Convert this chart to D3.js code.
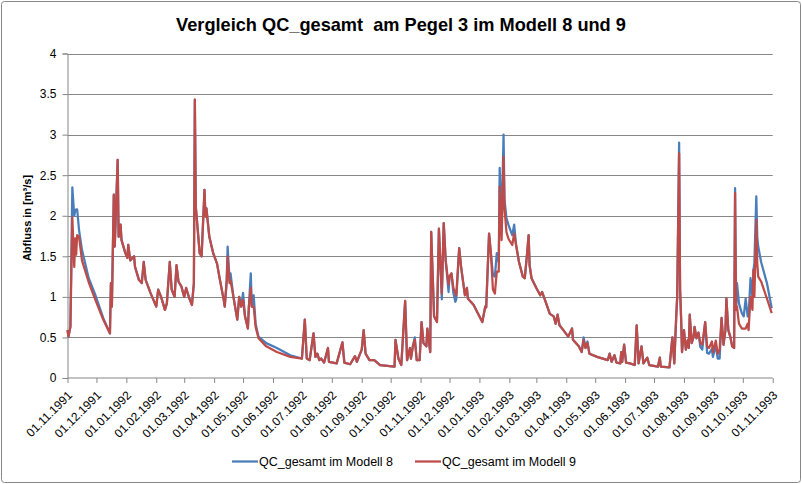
<!DOCTYPE html>
<html>
<head>
<meta charset="utf-8">
<script src="https://cdn.jsdelivr.net/npm/d3@7"></script>
<style>
  html, body { margin: 0; padding: 0; background: #fff; }
  svg { display: block; }
</style>
</head>
<body>
<svg id="chart" width="802" height="484"></svg>
<script>
// Tag seit 01.11.1991 und Abfluss [m³/s] der beiden Modelle
const tag = [
  0, 1, 3, 5, 7, 8, 9, 10, 12, 15, 22, 29, 37, 44, 45, 46, 48, 49, 52, 53,
  55, 56, 60, 62, 63, 65, 69, 70, 74, 77, 79, 81, 86, 92, 94, 97, 101, 103, 106, 108,
  111, 113, 115, 118, 121, 123, 126, 129, 131, 132, 133, 137, 139, 142, 143, 144, 147, 151, 155, 158,
  162, 163, 165, 166, 168, 169, 172, 176, 178, 180, 182, 184, 187, 188, 190, 191, 193, 195, 198, 206,
  217, 231, 243, 246, 248, 251, 255, 257, 259, 261, 263, 266, 270, 271, 279, 285, 287, 293, 298, 300,
  302, 305, 307, 309, 313, 318, 324, 339, 340, 343, 346, 350, 352, 355, 356, 358, 360, 362, 365, 367,
  369, 372, 373, 376, 377, 380, 383, 385, 388, 390, 392, 395, 396, 398, 400, 402, 403, 406, 408, 410,
  412, 414, 415, 421, 430, 433, 434, 437, 439, 441, 443, 445, 447, 448, 450, 452, 453, 455, 457, 461,
  463, 465, 468, 472, 474, 476, 478, 479, 481, 486, 490, 492, 495, 500, 504, 506, 508, 510, 514, 519,
  523, 524, 530, 533, 535, 537, 539, 541, 549, 560, 562, 564, 567, 569, 573, 574, 575, 577, 579, 583,
  588, 590, 592, 595, 597, 601, 603, 612, 614, 615, 624, 627, 629, 631, 632, 634, 635, 636, 637, 639,
  641, 643, 644, 645, 647, 649, 650, 652, 654, 656, 658, 661, 663, 665, 668, 669, 672, 674, 676, 678,
  680, 682, 683, 685, 687, 689, 691, 692, 693, 694, 696, 699, 701, 703, 705, 706, 708, 710, 711, 712,
  714, 715, 716, 719, 725, 730
];

const modell8 = [
  0.59, 0.51, 0.63, 2.35, 2.00, 2.06, 2.08, 2.08, 1.82, 1.58, 1.23, 1.02, 0.74, 0.55, 1.17, 0.88, 2.26, 1.62, 2.69, 1.74,
  1.89, 1.70, 1.54, 1.48, 1.64, 1.45, 1.50, 1.37, 1.21, 1.17, 1.43, 1.21, 1.05, 0.88, 1.09, 1.00, 0.84, 0.92, 1.43, 1.09,
  1.00, 1.39, 1.19, 1.13, 1.00, 1.11, 0.99, 0.90, 1.17, 3.43, 2.11, 1.54, 1.50, 2.32, 1.99, 2.09, 1.74, 1.54, 1.41, 1.21,
  0.96, 0.88, 1.19, 1.62, 1.20, 1.29, 1.00, 0.72, 1.00, 0.88, 1.05, 0.76, 0.61, 0.88, 1.29, 0.88, 1.02, 0.67, 0.51, 0.43,
  0.37, 0.28, 0.24, 0.72, 0.24, 0.22, 0.55, 0.26, 0.30, 0.22, 0.24, 0.19, 0.37, 0.20, 0.18, 0.44, 0.19, 0.17, 0.27, 0.20,
  0.26, 0.35, 0.59, 0.30, 0.22, 0.22, 0.16, 0.14, 0.47, 0.24, 0.16, 0.95, 0.22, 0.37, 0.24, 0.39, 0.50, 0.22, 0.22, 0.69,
  0.43, 0.39, 0.61, 0.32, 1.80, 0.76, 0.69, 1.84, 0.97, 1.91, 1.45, 1.06, 1.25, 1.29, 1.05, 0.94, 0.97, 1.60, 1.37, 1.19,
  1.02, 1.11, 0.98, 0.90, 0.69, 0.88, 0.87, 1.78, 1.52, 1.27, 1.25, 1.54, 1.43, 2.59, 1.89, 3.00, 2.20, 1.97, 1.89, 1.76,
  1.89, 1.64, 1.43, 1.25, 1.23, 1.48, 1.76, 1.39, 1.23, 1.11, 1.02, 1.06, 0.96, 0.79, 0.76, 0.67, 0.78, 0.65, 0.59, 0.51,
  0.61, 0.47, 0.39, 0.32, 0.50, 0.37, 0.45, 0.30, 0.26, 0.22, 0.30, 0.20, 0.28, 0.19, 0.18, 0.32, 0.20, 0.41, 0.19, 0.18,
  0.16, 0.65, 0.18, 0.39, 0.18, 0.25, 0.16, 0.14, 0.25, 0.14, 0.13, 0.50, 0.18, 0.76, 1.00, 2.90, 1.09, 0.76, 0.32, 0.59,
  0.35, 0.47, 0.37, 0.78, 0.43, 0.51, 0.63, 0.49, 0.56, 0.38, 0.35, 0.69, 0.31, 0.30, 0.36, 0.26, 0.40, 0.24, 0.24, 0.74,
  0.41, 0.59, 0.98, 0.59, 0.51, 0.39, 0.37, 2.34, 0.84, 1.17, 0.92, 0.80, 0.76, 0.98, 0.76, 0.76, 1.23, 1.00, 1.33, 1.41,
  2.24, 1.74, 1.62, 1.43, 1.17, 0.86
];

const modell9 = [
  0.59, 0.51, 0.63, 1.98, 1.37, 1.72, 1.52, 1.76, 1.74, 1.45, 1.18, 0.96, 0.72, 0.55, 1.17, 0.88, 2.26, 1.62, 2.69, 1.74,
  1.89, 1.70, 1.54, 1.48, 1.64, 1.45, 1.50, 1.37, 1.21, 1.17, 1.43, 1.21, 1.05, 0.88, 1.09, 1.00, 0.84, 0.92, 1.43, 1.09,
  1.00, 1.39, 1.19, 1.13, 1.00, 1.11, 0.99, 0.90, 1.17, 3.43, 2.11, 1.54, 1.50, 2.32, 1.99, 2.09, 1.74, 1.54, 1.41, 1.21,
  0.96, 0.88, 1.19, 1.50, 1.17, 1.20, 1.00, 0.72, 1.00, 0.88, 0.96, 0.76, 0.61, 0.88, 1.11, 0.88, 0.88, 0.63, 0.49, 0.39,
  0.32, 0.26, 0.24, 0.72, 0.24, 0.22, 0.55, 0.26, 0.30, 0.22, 0.24, 0.19, 0.37, 0.20, 0.18, 0.44, 0.19, 0.17, 0.27, 0.20,
  0.26, 0.35, 0.59, 0.30, 0.22, 0.22, 0.16, 0.14, 0.47, 0.24, 0.16, 0.95, 0.22, 0.37, 0.24, 0.39, 0.47, 0.22, 0.22, 0.69,
  0.43, 0.39, 0.61, 0.32, 1.80, 0.76, 0.69, 1.84, 1.04, 1.91, 1.45, 1.15, 1.25, 1.29, 1.11, 1.04, 1.02, 1.60, 1.37, 1.19,
  1.02, 1.11, 0.98, 0.90, 0.69, 0.88, 0.87, 1.78, 1.52, 1.09, 1.04, 1.31, 1.31, 2.36, 1.70, 2.73, 2.09, 1.80, 1.72, 1.64,
  1.78, 1.64, 1.43, 1.25, 1.23, 1.48, 1.76, 1.39, 1.23, 1.11, 1.02, 1.06, 0.96, 0.79, 0.76, 0.67, 0.78, 0.65, 0.59, 0.51,
  0.61, 0.47, 0.39, 0.32, 0.47, 0.37, 0.43, 0.30, 0.26, 0.22, 0.30, 0.20, 0.28, 0.19, 0.18, 0.32, 0.20, 0.41, 0.19, 0.18,
  0.16, 0.65, 0.18, 0.39, 0.18, 0.25, 0.16, 0.14, 0.25, 0.14, 0.13, 0.50, 0.18, 0.76, 1.00, 2.77, 1.09, 0.76, 0.32, 0.59,
  0.35, 0.47, 0.37, 0.78, 0.43, 0.51, 0.63, 0.49, 0.56, 0.43, 0.41, 0.69, 0.39, 0.37, 0.45, 0.32, 0.46, 0.30, 0.35, 0.74,
  0.41, 0.59, 0.98, 0.59, 0.51, 0.39, 0.37, 2.28, 0.84, 0.88, 0.67, 0.61, 0.61, 0.61, 0.67, 0.59, 1.00, 0.84, 1.33, 1.00,
  1.95, 1.41, 1.25, 1.19, 0.98, 0.80
];

const seriesNames = ["QC_gesamt im Modell 8", "QC_gesamt im Modell 9"];
const seriesColors = ["#4a7ebb", "#be4b48"];
const yTicks = [0, 0.5, 1, 1.5, 2, 2.5, 3, 3.5, 4];
const startDate = new Date(Date.UTC(1991, 10, 1));
const endDate = new Date(Date.UTC(1993, 10, 1));

const TITLE = "Vergleich QC_gesamt  am Pegel 3 im Modell 8 und 9";
const Y_TITLE = "Abfluss in [m³/s]";
const FONT = "'Liberation Sans', Arial, sans-serif";
const GRID = "#878787";

const svg = d3.select("#chart");
const W = 802, H = 484;
const plot = { left: 67.5, right: 772.7, top: 53.5, bottom: 378 };

svg.append("rect")
  .attr("x", 1.5).attr("y", 1.5)
  .attr("width", W - 3).attr("height", H - 3)
  .attr("rx", 3)
  .attr("fill", "#fff")
  .attr("stroke", GRID);

const x = d3.scaleUtc().domain([startDate, endDate]).range([plot.left, plot.right]);
const y = d3.scaleLinear().domain([0, 4]).range([plot.bottom, plot.top]);

// gridlines
svg.append("g")
  .selectAll("line")
  .data(yTicks.filter((d) => d > 0))
  .join("line")
  .attr("x1", plot.left).attr("x2", plot.right)
  .attr("y1", (d) => Math.round(y(d)) + 0.5).attr("y2", (d) => Math.round(y(d)) + 0.5)
  .attr("stroke", GRID)
  .attr("stroke-width", 1);

// y axis
const yAxis = svg.append("g")
  .attr("transform", `translate(${plot.left},0)`)
  .call(d3.axisLeft(y).tickValues(yTicks).tickSize(5).tickPadding(6).tickFormat((d) => String(d)));
yAxis.select(".domain").attr("stroke", GRID);
yAxis.selectAll(".tick line").attr("stroke", GRID);
yAxis.selectAll(".tick text")
  .attr("font-family", FONT)
  .attr("font-size", 12)
  .attr("fill", "#000");

// x axis
const monthTicks = d3.utcMonth.range(startDate, d3.utcDay.offset(endDate, 1));
const fmt = d3.utcFormat("%d.%m.%Y");
const xAxis = svg.append("g")
  .attr("transform", `translate(0,${plot.bottom})`)
  .call(d3.axisBottom(x).tickValues(monthTicks).tickSize(5).tickFormat(fmt));
xAxis.select(".domain").attr("stroke", GRID).attr("d", `M${plot.left},0H${plot.right}`);
xAxis.selectAll(".tick line").attr("stroke", GRID);
xAxis.selectAll(".tick text")
  .attr("font-family", FONT)
  .attr("font-size", 12)
  .attr("fill", "#000")
  .attr("text-anchor", "end")
  .attr("dy", null)
  .attr("y", 0)
  .attr("transform", "translate(5,18) rotate(-45)");

// lines
const rows = tag.map((t, i) => ({ date: d3.utcDay.offset(startDate, t), m8: modell8[i], m9: modell9[i] }));
const line = (key) => d3.line().x((d) => x(d.date)).y((d) => y(d[key]));

svg.append("path")
  .datum(rows)
  .attr("fill", "none")
  .attr("stroke", seriesColors[0])
  .attr("stroke-width", 2.25)
  .attr("stroke-linejoin", "round")
  .attr("d", line("m8"));

svg.append("path")
  .datum(rows)
  .attr("fill", "none")
  .attr("stroke", seriesColors[1])
  .attr("stroke-width", 2.25)
  .attr("stroke-linejoin", "round")
  .attr("d", line("m9"));

// title
svg.append("text")
  .attr("x", 401).attr("y", 31)
  .attr("text-anchor", "middle")
  .attr("font-family", FONT)
  .attr("font-weight", "bold")
  .attr("font-size", 18.2)
  .attr("fill", "#000")
  .style("white-space", "pre")
  .text(TITLE);

// y title
svg.append("text")
  .attr("transform", "translate(31,218) rotate(-90)")
  .attr("text-anchor", "middle")
  .attr("font-family", FONT)
  .attr("font-weight", "bold")
  .attr("font-size", 11)
  .attr("fill", "#000")
  .text(Y_TITLE);

// legend
const legendX = [232, 415];
seriesNames.forEach((name, i) => {
  const g = svg.append("g").attr("transform", `translate(${legendX[i]},461.5)`);
  g.append("line").attr("x1", 0).attr("x2", 26).attr("stroke", seriesColors[i]).attr("stroke-width", 2.25);
  g.append("text")
    .attr("x", 27).attr("y", 4.5)
    .attr("font-family", FONT)
    .attr("font-size", 12.5)
    .attr("fill", "#000")
    .text(name);
});
</script>
</body>
</html>
